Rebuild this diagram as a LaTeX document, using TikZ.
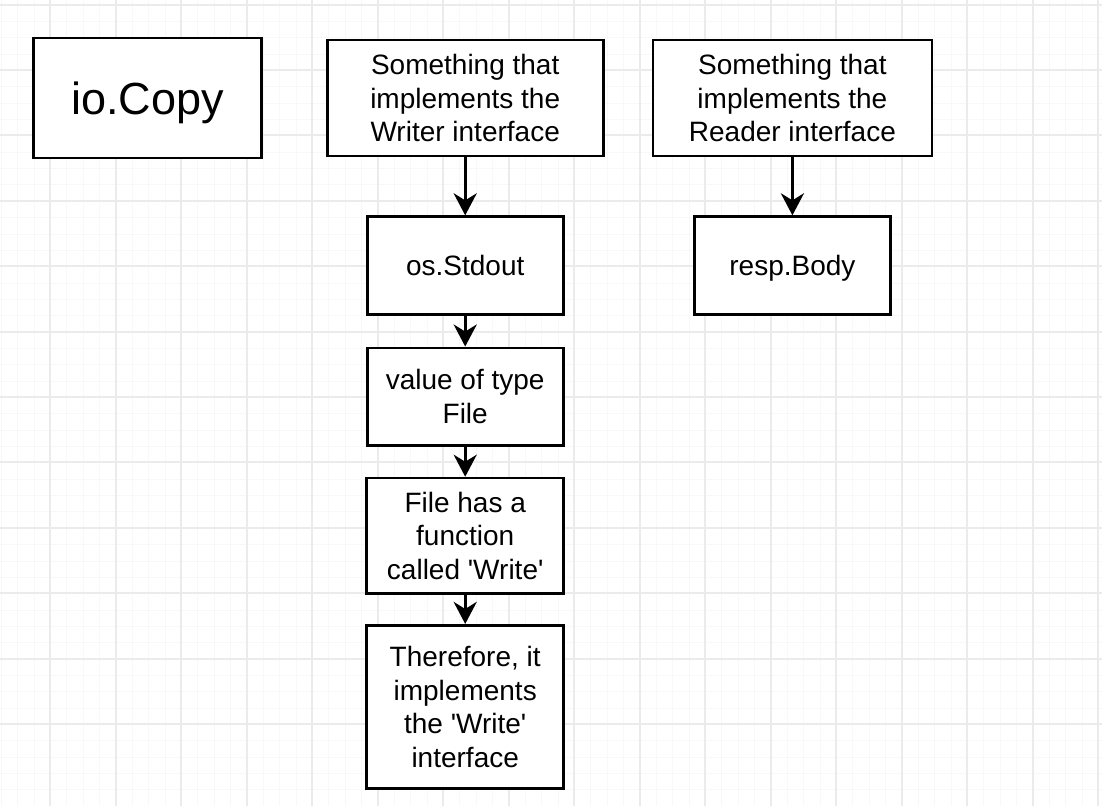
\documentclass[tikz,border=0pt]{standalone}
\usepackage{fontspec}
\setmainfont{Liberation Sans}
\usepackage{xcolor}
\usepackage{tikz}
\usetikzlibrary{positioning,arrows.meta}
\definecolor{GridMajor}{HTML}{EBEBEB}
\definecolor{GridMinor}{HTML}{F8F8F8}
\tikzset{
  ifacebox/.style={draw=black, fill=white, line width=1.35pt, align=center, inner sep=2pt, font=\fontsize{14pt}{16.7pt}\selectfont},
  onelinebox/.style={ifacebox, text depth=0pt},
  titlebox/.style={ifacebox, text depth=0pt, font=\fontsize{22.5pt}{27pt}\selectfont},
  flowarr/.style={-{Stealth[length=11pt, width=11.5pt, inset=3.5pt]}, line width=1.6pt, draw=black},
  gridminor/.style={draw=GridMinor, line width=0.5pt},
  gridmajor/.style={draw=GridMajor, line width=0.9pt}
}

\begin{document}
\begin{tikzpicture}[x=0.5pt, y=-0.5pt]
  \useasboundingbox (0,0) rectangle (1102,806);
  \fill[white] (0,0) rectangle (1102,806);
  % background grid
  \foreach \i in {0,...,67} \draw[gridminor] ({round(0.875+16.375*\i)+0.5},0) -- ++(0,806);
  \foreach \i in {0,...,49} \draw[gridminor] (0,{round(4.6+16.35*\i)+0.5}) -- ++(1102,0);
  \foreach \i in {0,...,16} \draw[gridmajor] ({round(50+65.5*\i)},0) -- ++(0,806);
  \foreach \i in {0,...,11} \draw[gridmajor] (0,{round(4.6+65.4*\i)}) -- ++(1102,0);

  \node[titlebox, minimum width=114pt, minimum height=60pt] (copy) at (147.5,98) {io.Copy};
  \node[ifacebox, minimum width=138pt, minimum height=58pt, right=31.5pt of copy] (writer) {Something that\\implements the\\Writer interface};
  \node[ifacebox, minimum width=139.5pt, minimum height=58pt, right=23.5pt of writer] (reader) {Something that\\implements the\\Reader interface};

  \node[onelinebox, minimum width=98pt, minimum height=48.75pt, below=29pt of writer] (stdout) {os.Stdout};
  \node[ifacebox, minimum width=98pt, minimum height=48.75pt, below=15.5pt of stdout] (filetype) {value of type\\File};
  \node[ifacebox, minimum width=98.5pt, minimum height=57.75pt, below=15pt of filetype] (writefn) {File has a\\function\\called \textquotesingle Write\textquotesingle};
  \node[ifacebox, minimum width=98.5pt, minimum height=81.75pt, below=14.5pt of writefn] (implements) {Therefore, it\\implements\\the \textquotesingle Write\textquotesingle\\interface};

  \node[onelinebox, minimum width=98pt, minimum height=48.75pt, below=29pt of reader] (body) {resp.Body};

  \draw[flowarr] (writer) -- (stdout);
  \draw[flowarr] (stdout) -- (filetype);
  \draw[flowarr] (filetype) -- (writefn);
  \draw[flowarr] (writefn) -- (implements);
  \draw[flowarr] (reader) -- (body);
\end{tikzpicture}
\end{document}
